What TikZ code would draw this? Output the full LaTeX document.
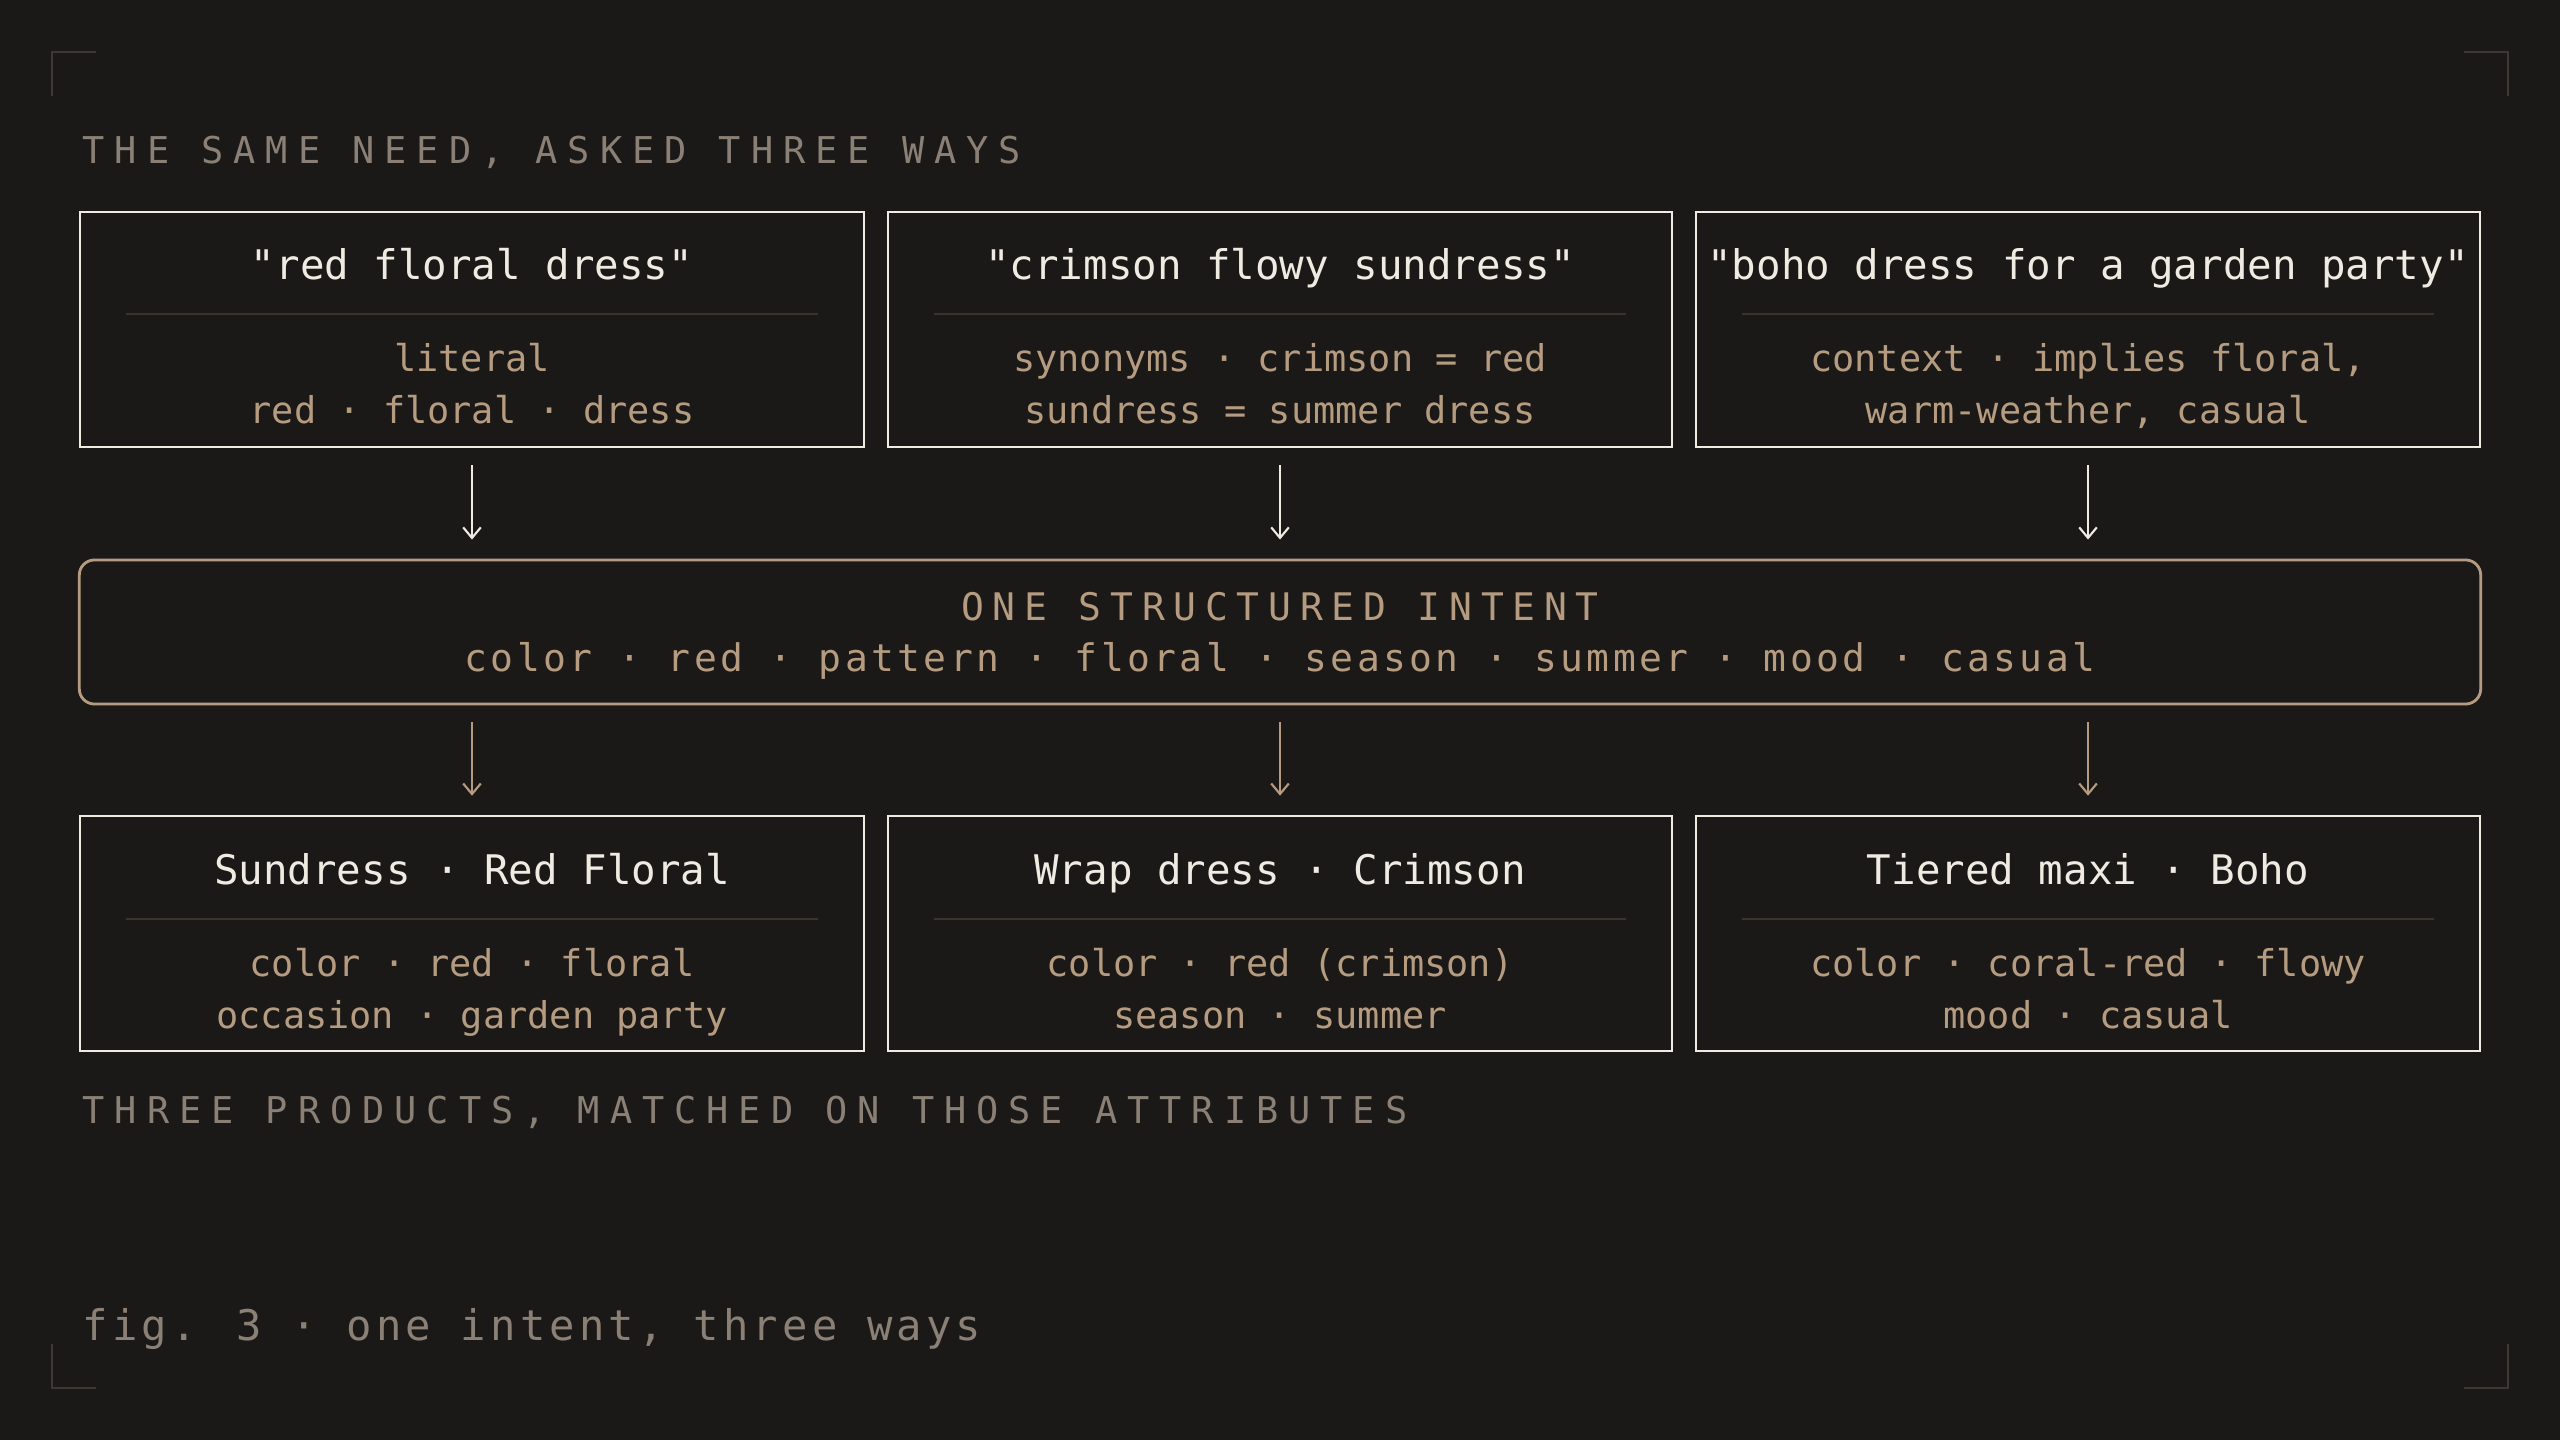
\documentclass[tikz,border=0pt]{standalone}
\usepackage{fontspec}
\setmonofont{DejaVu Sans Mono}
\newfontfamily\capsfont[LetterSpace=27]{DejaVu Sans Mono}
\newfontfamily\intentfont[LetterSpace=23]{DejaVu Sans Mono}
\newfontfamily\attrfont[LetterSpace=9]{DejaVu Sans Mono}
\newfontfamily\figfont[LetterSpace=10]{DejaVu Sans Mono}
\usetikzlibrary{arrows.meta, calc}

\definecolor{bgc}{HTML}{1B1917}
\definecolor{ink}{HTML}{F0EBE2}
\definecolor{tan}{HTML}{B59C80}
\definecolor{muted}{HTML}{8A8076}
\definecolor{rulec}{HTML}{3B342D}
\definecolor{cornerc}{HTML}{3E3832}

\begin{document}
\begin{tikzpicture}[
  x=0.01cm, y=-0.01cm,
  card/.style={draw=ink, line width=0.7pt, minimum width=7.84cm,
               minimum height=2.35cm, inner sep=0},
  intentbox/.style={draw=tan, line width=0.8pt, rounded corners=4.3pt,
               minimum width=24cm, minimum height=1.44cm, inner sep=0},
  cardtitle/.style={anchor=base, inner sep=0, text=ink,
               font=\ttfamily\fontsize{11.6}{14}\selectfont},
  cardline/.style={anchor=base, inner sep=0, text=tan,
               font=\ttfamily\fontsize{10.5}{13}\selectfont},
  capsline/.style={anchor=base west, inner sep=0, text=muted,
               font=\capsfont\fontsize{10.5}{13}\selectfont},
  sep/.style={draw=rulec, line width=0.55pt},
  arr/.style={-{Straight Barb[length=3pt, width=5pt]}, line width=0.6pt},
  cornermark/.style={draw=cornerc, line width=0.45pt}
]
  \fill[bgc] (0,0) rectangle (2560,1440);
  \useasboundingbox (0,0) rectangle (2560,1440);

  % frame corners
  \draw[cornermark] (52,96) -- (52,52) -- (96,52);
  \draw[cornermark] (2464,52) -- (2508,52) -- (2508,96);
  \draw[cornermark] (52,1344) -- (52,1388) -- (96,1388);
  \draw[cornermark] (2464,1388) -- (2508,1388) -- (2508,1344);

  \node[capsline] (headq) at (82,164) {THE SAME NEED, ASKED THREE WAYS};

  % queries
  \node[card] (q1) at (472,329.5)  {};
  \node[card] (q2) at (1280,329.5) {};
  \node[card] (q3) at (2088,329.5) {};

  \node[cardtitle] (q1t) at (472,280)  {"red floral dress"};
  \node[cardtitle] (q2t) at (1280,280) {"crimson flowy sundress"};
  \node[cardtitle] (q3t) at (2088,280) {"boho dress for a garden party"};

  \draw[sep] ($(q1.north west)+(47,103)$) -- ($(q1.north east)+(-47,103)$);
  \draw[sep] ($(q2.north west)+(47,103)$) -- ($(q2.north east)+(-47,103)$);
  \draw[sep] ($(q3.north west)+(47,103)$) -- ($(q3.north east)+(-47,103)$);

  \node[cardline] (q1a) at (472,372)  {literal};
  \node[cardline] (q1b) at (472,424)  {red · floral · dress};
  \node[cardline] (q2a) at (1280,372) {synonyms · crimson = red};
  \node[cardline] (q2b) at (1280,424) {sundress = summer dress};
  \node[cardline] (q3a) at (2088,372) {context · implies floral,};
  \node[cardline] (q3b) at (2088,424) {warm-weather, casual};

  % shared intent
  \node[intentbox] (intent) at (1280,632) {};
  \node[anchor=base, inner sep=0, text=tan,
        font=\intentfont\fontsize{10.8}{13}\selectfont] (intentt) at (1280,621)
        {ONE STRUCTURED INTENT};
  \node[anchor=base, inner sep=0, text=tan,
        font=\attrfont\fontsize{10.8}{13}\selectfont] (intentl) at (1280,672)
        {color · red · pattern · floral · season · summer · mood · casual};

  \draw[arr, ink, shorten <=4.8pt, shorten >=5.4pt] (q1.south) -- (q1.south |- intent.north);
  \draw[arr, ink, shorten <=4.8pt, shorten >=5.4pt] (q2.south) -- (q2.south |- intent.north);
  \draw[arr, ink, shorten <=4.8pt, shorten >=5.4pt] (q3.south) -- (q3.south |- intent.north);

  % products
  \node[card] (p1) at (472,933.5)  {};
  \node[card] (p2) at (1280,933.5) {};
  \node[card] (p3) at (2088,933.5) {};

  \draw[arr, tan, shorten <=4.6pt, shorten >=5.4pt] (q1.south |- intent.south) -- (p1.north);
  \draw[arr, tan, shorten <=4.6pt, shorten >=5.4pt] (q2.south |- intent.south) -- (p2.north);
  \draw[arr, tan, shorten <=4.6pt, shorten >=5.4pt] (q3.south |- intent.south) -- (p3.north);

  \node[cardtitle] (p1t) at (472,885)  {Sundress · Red Floral};
  \node[cardtitle] (p2t) at (1280,885) {Wrap dress · Crimson};
  \node[cardtitle] (p3t) at (2088,885) {Tiered maxi · Boho};

  \draw[sep] ($(p1.north west)+(47,104)$) -- ($(p1.north east)+(-47,104)$);
  \draw[sep] ($(p2.north west)+(47,104)$) -- ($(p2.north east)+(-47,104)$);
  \draw[sep] ($(p3.north west)+(47,104)$) -- ($(p3.north east)+(-47,104)$);

  \node[cardline] (p1a) at (472,976)   {color · red · floral};
  \node[cardline] (p1b) at (472,1028)  {occasion · garden party};
  \node[cardline] (p2a) at (1280,976)  {color · red (crimson)};
  \node[cardline] (p2b) at (1280,1028) {season · summer};
  \node[cardline] (p3a) at (2088,976)  {color · coral-red · flowy};
  \node[cardline] (p3b) at (2088,1028) {mood · casual};

  \node[capsline] (headp) at (82,1123) {THREE PRODUCTS, MATCHED ON THOSE ATTRIBUTES};

  \node[anchor=base west, inner sep=0, text=muted,
        font=\figfont\fontsize{12}{14}\selectfont] (caption) at (82,1340)
        {fig. 3 · one intent, three ways};
\end{tikzpicture}
\end{document}
